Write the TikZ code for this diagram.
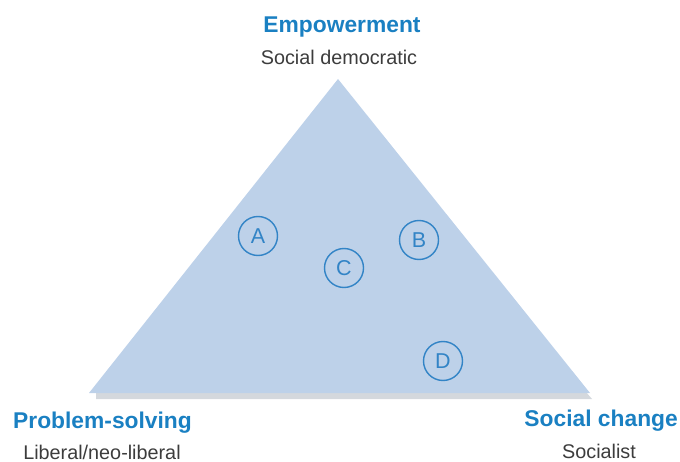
\documentclass[tikz,border=0pt]{standalone}
\usepackage{fontspec}
\setmainfont{Liberation Sans}
\definecolor{hdblue}{RGB}{26,128,194}
\definecolor{txtgray}{RGB}{60,60,60}
\definecolor{trifill}{RGB}{189,209,233}
\definecolor{shadowgray}{RGB}{212,216,221}
\definecolor{circblue}{RGB}{50,132,198}
\begin{document}
\begin{tikzpicture}[x=1pt,y=-1pt,
  heading/.style={font=\fontsize{22.8}{26}\selectfont\bfseries, text=hdblue, inner sep=0pt},
  subhead/.style={font=\fontsize{19.8}{23}\selectfont, text=txtgray, inner sep=0pt},
  marker/.style={circle, draw=circblue, line width=1.4pt, minimum size=39pt, inner sep=0pt,
    text=circblue, font=\fontsize{21.5}{24}\selectfont}]
\useasboundingbox (0,0) rectangle (680,462);
% shadow and triangle
\fill[shadowgray] (96,399) -- (592,399) -- (586,392) -- (96,392) -- cycle;
\fill[trifill] (338,79) -- (590,393) -- (89,393) -- cycle;
\coordinate (apex) at (338,79);
% markers
\node[marker] (A) at (258,236) {A};
\node[marker] (B) at (419,240) {B};
\node[marker] (C) at (344,268) {C};
\node[marker] (D) at (443,361) {D};
% labels
\node[heading, anchor=base] (emp) at (342,33) {Empowerment};
\node[subhead, anchor=base] (socdem) at (339,65) {Social democratic};
\node[heading, anchor=base west] (prob) at (13,428) {Problem-solving};
\node[subhead, anchor=base] (lib) at (102,459) {Liberal/neo-liberal};
\node[heading, anchor=base east] (soch) at (678,426) {Social change};
\node[subhead, anchor=base] (soc) at (599,458) {Socialist};
\end{tikzpicture}
\end{document}
